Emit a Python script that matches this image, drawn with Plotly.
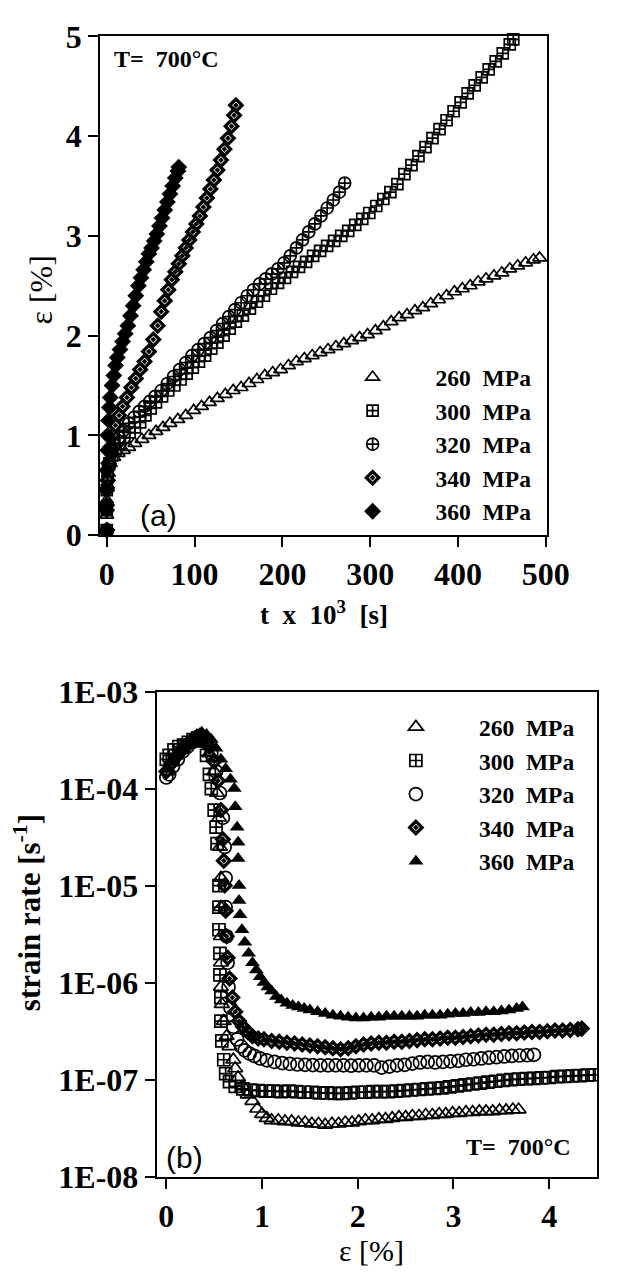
import plotly.graph_objects as go

# ---------------- Panel (a): strain vs time (t x 10^3 s) ----------------
a_t_260 = [0,0,0,1,2,4,8,13,19,25,32,40,48,56,64,72,81,90,99,108,117,126,135,144,153,162,171,180,189,198,207,216,225,234,243,252,261,270,279,288,297,306,315,324,333,342,351,360,369,378,387,396,405,414,423,432,441,450,459,468,477,486,493]
a_e_260 = [0.05,0.2,0.35,0.5,0.62,0.72,0.78,0.82,0.85,0.88,0.92,0.96,1.0,1.04,1.08,1.12,1.16,1.2,1.25,1.29,1.33,1.37,1.41,1.45,1.48,1.52,1.56,1.6,1.63,1.66,1.7,1.74,1.77,1.8,1.83,1.86,1.89,1.92,1.95,1.98,2.01,2.05,2.09,2.14,2.18,2.21,2.25,2.28,2.32,2.36,2.4,2.44,2.47,2.5,2.54,2.57,2.6,2.63,2.67,2.7,2.73,2.76,2.78]

a_t_300 = [0,0,0,1,3,6,10,15,20,26,32,38,44,50,56,63,70,77,84,91,98,105,112,119,126,133,140,147,155,163,171,179,187,195,203,211,219,227,235,243,251,259,267,275,283,291,299,307,315,323,331,339,347,355,363,371,379,387,395,403,411,419,427,435,443,451,459,463]
a_e_300 = [0.05,0.25,0.45,0.6,0.72,0.8,0.86,0.92,0.98,1.03,1.08,1.13,1.2,1.27,1.33,1.39,1.45,1.5,1.56,1.62,1.68,1.74,1.8,1.87,1.93,2.0,2.07,2.14,2.2,2.27,2.34,2.4,2.47,2.53,2.58,2.64,2.69,2.74,2.8,2.85,2.9,2.95,3.0,3.05,3.11,3.17,3.23,3.3,3.37,3.44,3.52,3.62,3.71,3.8,3.89,3.98,4.07,4.16,4.25,4.34,4.43,4.51,4.59,4.67,4.75,4.83,4.92,4.97]

a_t_320 = [0,0,1,2,5,9,14,19,25,31,37,43,49,55,62,69,76,83,90,97,104,111,118,125,132,139,146,153,160,167,174,181,188,195,202,209,216,223,230,237,244,251,258,265,271]
a_e_320 = [0.05,0.3,0.55,0.7,0.82,0.9,0.98,1.05,1.12,1.18,1.24,1.29,1.34,1.39,1.45,1.52,1.59,1.66,1.73,1.8,1.86,1.92,1.98,2.05,2.12,2.19,2.26,2.33,2.4,2.46,2.52,2.57,2.62,2.67,2.73,2.8,2.88,2.96,3.04,3.12,3.2,3.28,3.36,3.44,3.53]

a_t_340 = [0,0,1,2,4,7,10,14,18,23,28,33,38,43,48,53,58,62,66,70,74,78,82,86,90,94,98,102,106,110,114,118,122,126,130,134,138,142,145,147]
a_e_340 = [0.05,0.3,0.55,0.72,0.88,1.0,1.1,1.2,1.29,1.38,1.48,1.57,1.66,1.74,1.84,1.96,2.1,2.24,2.35,2.46,2.56,2.64,2.72,2.8,2.88,2.96,3.04,3.12,3.2,3.29,3.38,3.47,3.56,3.66,3.76,3.87,3.98,4.1,4.21,4.31]

a_t_360 = [0,0,0,0,1,1,2,3,4,6,8,10,12,15,18,21,24,27,30,33,36,39,42,45,48,51,54,57,60,63,66,69,72,75,78,81,82]
a_e_360 = [0.05,0.25,0.45,0.65,0.85,1.0,1.15,1.28,1.38,1.5,1.6,1.7,1.78,1.86,1.94,2.02,2.1,2.2,2.3,2.4,2.5,2.58,2.66,2.74,2.82,2.88,2.95,3.02,3.1,3.18,3.26,3.34,3.42,3.5,3.58,3.65,3.69]

# ---------------- Panel (b): strain rate vs strain ----------------
b_e_260 = [0.02,0.06,0.1,0.15,0.2,0.25,0.3,0.35,0.4,0.45,0.5,0.53,0.55,0.56,0.57,0.57,0.57,0.57,0.57,0.58,0.6,0.63,0.66,0.7,0.72,0.75,0.8,0.85,0.9,0.95,1.0,1.05,1.1,
           1.17,1.24,1.31,1.38,1.45,1.52,1.59,1.66,1.73,1.8,1.87,1.94,2.01,2.08,2.15,2.22,2.29,2.36,2.43,2.5,2.57,2.64,2.71,2.78,2.85,2.92,2.99,3.06,3.13,3.2,3.27,3.34,3.41,3.48,3.55,3.62,3.68]
b_r_260 = [1.5e-4,1.9e-4,2.2e-4,2.5e-4,2.8e-4,3.1e-4,3.3e-4,3.4e-4,3.0e-4,2.3e-4,1.5e-4,9e-5,5e-5,2.5e-5,1.2e-5,6e-6,3e-6,1.6e-6,9e-7,6e-7,4e-7,2.8e-7,2.2e-7,1.6e-7,1.3e-7,1.05e-7,8.5e-8,7e-8,6e-8,5e-8,4.4e-8,4e-8,3.8e-8,
           3.8e-8,3.7e-8,3.7e-8,3.6e-8,3.6e-8,3.5e-8,3.5e-8,3.4e-8,3.5e-8,3.5e-8,3.6e-8,3.6e-8,3.7e-8,3.8e-8,3.8e-8,3.9e-8,3.9e-8,4.0e-8,4.1e-8,4.1e-8,4.2e-8,4.2e-8,4.3e-8,4.3e-8,4.4e-8,4.4e-8,4.5e-8,4.5e-8,4.6e-8,4.6e-8,4.7e-8,4.7e-8,4.7e-8,4.8e-8,4.8e-8,4.9e-8,4.9e-8]

b_e_300 = [0.0,0.03,0.08,0.13,0.18,0.23,0.28,0.33,0.38,0.42,0.45,0.47,0.5,0.52,0.53,0.55,0.55,0.55,0.56,0.56,0.57,0.57,0.58,0.6,0.62,0.66,0.72,0.8,0.88,
           0.96,1.04,1.12,1.2,1.28,1.36,1.44,1.52,1.6,1.68,1.76,1.84,1.92,2.0,2.08,2.16,2.24,2.32,2.4,2.48,2.56,2.64,2.72,2.8,2.88,2.96,3.04,3.12,3.2,3.28,3.36,3.44,3.52,3.6,3.68,3.76,3.84,3.92,4.0,4.08,4.16,4.24,4.32,4.4,4.48]
b_r_300 = [2.0e-4,2.2e-4,2.5e-4,2.7e-4,2.8e-4,3.0e-4,3.2e-4,3.3e-4,3.1e-4,2.2e-4,1.4e-4,1e-4,6e-5,4e-5,2.7e-5,1e-5,6e-6,3.5e-6,2e-6,1.2e-6,7e-7,4e-7,2.5e-7,1.6e-7,1.15e-7,9.5e-8,8.5e-8,8e-8,7.8e-8,
           7.7e-8,7.6e-8,7.6e-8,7.5e-8,7.6e-8,7.5e-8,7.4e-8,7.4e-8,7.3e-8,7.3e-8,7.2e-8,7.2e-8,7.3e-8,7.4e-8,7.4e-8,7.5e-8,7.5e-8,7.5e-8,7.6e-8,7.7e-8,7.8e-8,7.9e-8,8.0e-8,8.1e-8,8.2e-8,8.4e-8,8.6e-8,8.8e-8,9.0e-8,9.2e-8,9.4e-8,9.6e-8,9.8e-8,1.0e-7,1.01e-7,1.02e-7,1.03e-7,1.04e-7,1.05e-7,1.07e-7,1.08e-7,1.09e-7,1.1e-7,1.11e-7,1.12e-7]

b_e_320 = [0.0,0.03,0.07,0.12,0.17,0.22,0.27,0.32,0.37,0.42,0.47,0.52,0.56,0.59,0.61,0.62,0.62,0.63,0.64,0.65,0.67,0.7,0.74,0.78,0.82,0.87,0.92,0.98,
           1.05,1.13,1.21,1.29,1.37,1.45,1.53,1.61,1.69,1.77,1.85,1.93,2.01,2.09,2.17,2.25,2.33,2.41,2.49,2.57,2.65,2.73,2.81,2.89,2.97,3.05,3.13,3.21,3.29,3.37,3.45,3.53,3.61,3.69,3.77,3.84]
b_r_320 = [1.3e-4,1.4e-4,1.7e-4,2.0e-4,2.4e-4,2.7e-4,3.0e-4,3.2e-4,3.3e-4,3.0e-4,2.3e-4,1.5e-4,9e-5,5e-5,2.5e-5,1.2e-5,6e-6,3e-6,1.6e-6,9e-7,5.5e-7,3.5e-7,2.6e-7,2.2e-7,2.0e-7,1.85e-7,1.75e-7,1.65e-7,
           1.58e-7,1.52e-7,1.48e-7,1.45e-7,1.43e-7,1.42e-7,1.41e-7,1.4e-7,1.4e-7,1.4e-7,1.4e-7,1.39e-7,1.4e-7,1.4e-7,1.4e-7,1.33e-7,1.36e-7,1.4e-7,1.42e-7,1.46e-7,1.5e-7,1.52e-7,1.5e-7,1.52e-7,1.54e-7,1.56e-7,1.6e-7,1.62e-7,1.65e-7,1.68e-7,1.7e-7,1.73e-7,1.75e-7,1.77e-7,1.78e-7,1.8e-7]

b_e_340 = [0.0,0.05,0.1,0.15,0.2,0.25,0.3,0.35,0.4,0.45,0.5,0.54,0.57,0.59,0.6,0.61,0.62,0.63,0.64,0.66,0.69,0.72,0.76,0.8,0.85,0.9,0.96,
           1.02,1.1,1.18,1.26,1.34,1.42,1.5,1.58,1.66,1.74,1.82,1.9,1.98,2.06,2.14,2.22,2.3,2.38,2.46,2.54,2.62,2.7,2.78,2.86,2.94,3.02,3.1,3.18,3.26,3.34,3.42,3.5,3.58,3.66,3.74,3.82,3.9,3.98,4.06,4.14,4.22,4.3,4.34]
b_r_340 = [1.5e-4,1.8e-4,2.1e-4,2.4e-4,2.7e-4,3.0e-4,3.3e-4,3.5e-4,3.3e-4,2.7e-4,1.9e-4,1.2e-4,6e-5,3e-5,1.8e-5,1e-5,5.5e-6,3e-6,1.8e-6,1.1e-6,7e-7,5e-7,4e-7,3.5e-7,3.1e-7,2.8e-7,2.65e-7,
           2.6e-7,2.5e-7,2.45e-7,2.4e-7,2.35e-7,2.3e-7,2.25e-7,2.2e-7,2.15e-7,2.1e-7,2.05e-7,2.1e-7,2.2e-7,2.3e-7,2.35e-7,2.4e-7,2.4e-7,2.45e-7,2.45e-7,2.5e-7,2.55e-7,2.6e-7,2.6e-7,2.65e-7,2.7e-7,2.7e-7,2.75e-7,2.8e-7,2.85e-7,2.9e-7,2.9e-7,2.95e-7,3.0e-7,3.0e-7,3.05e-7,3.1e-7,3.1e-7,3.15e-7,3.2e-7,3.2e-7,3.25e-7,3.3e-7,3.35e-7]

b_e_360 = [0.02,0.07,0.12,0.17,0.22,0.27,0.32,0.37,0.42,0.47,0.52,0.57,0.62,0.67,0.71,0.72,0.74,0.75,0.75,0.76,0.76,0.77,0.79,0.82,0.86,0.9,0.94,0.98,1.02,1.06,1.1,1.15,1.2,1.26,1.32,1.38,1.44,
           1.5,1.58,1.66,1.74,1.82,1.9,1.98,2.06,2.14,2.22,2.3,2.38,2.46,2.54,2.62,2.7,2.78,2.86,2.94,3.02,3.1,3.18,3.26,3.34,3.42,3.5,3.58,3.66,3.72]
b_r_360 = [1.6e-4,2.0e-4,2.4e-4,2.8e-4,3.1e-4,3.4e-4,3.6e-4,3.8e-4,3.6e-4,3.2e-4,2.6e-4,2.0e-4,1.6e-4,1.25e-4,1e-4,6.5e-5,4e-5,2.8e-5,1.9e-5,1e-5,7e-6,5e-6,3.5e-6,2.6e-6,2e-6,1.6e-6,1.35e-6,1.15e-6,1e-6,9e-7,8.2e-7,7.2e-7,6.6e-7,6.1e-7,5.8e-7,5.6e-7,5.4e-7,
           5.2e-7,5.0e-7,4.8e-7,4.6e-7,4.5e-7,4.4e-7,4.3e-7,4.3e-7,4.4e-7,4.4e-7,4.5e-7,4.5e-7,4.5e-7,4.5e-7,4.5e-7,4.6e-7,4.6e-7,4.6e-7,4.7e-7,4.8e-7,4.8e-7,4.9e-7,4.9e-7,5.0e-7,5.0e-7,5.1e-7,5.2e-7,5.4e-7,5.6e-7]

series_names = ["260\u00a0\u00a0MPa", "300\u00a0\u00a0MPa", "320\u00a0\u00a0MPa", "340\u00a0\u00a0MPa", "360\u00a0\u00a0MPa"]
x_tickvals_a = [0, 100, 200, 300, 400, 500]
y_tickvals_a = [0, 1, 2, 3, 4, 5]
x_tickvals_b = [0, 1, 2, 3, 4]
y_tickvals_b = [1e-8, 1e-7, 1e-6, 1e-5, 1e-4, 1e-3]
y_ticktext_b = ["1E-08", "1E-07", "1E-06", "1E-05", "1E-04", "1E-03"]

W, H = 622, 1283
SERIF = "Liberation Serif"
SANS = "Liberation Sans"

def px_x(p):
    return p / W

def px_y(p):
    return 1 - p / H

fig = go.Figure()

top_styles = [
    dict(symbol="triangle-up-open", size=12, color="black", line=dict(width=1.7, color="black")),
    dict(symbol="square-cross-open", size=11, color="black", line=dict(width=1.7, color="black")),
    dict(symbol="circle-cross-open", size=12, color="black", line=dict(width=1.7, color="black")),
    dict(symbol="diamond-open-dot", size=9.5, color="black", line=dict(width=3.3, color="black")),
    dict(symbol="diamond", size=13, color="black", line=dict(width=0)),
]
bot_styles = [
    dict(symbol="triangle-up-open", size=13, color="black", line=dict(width=1.7, color="black")),
    dict(symbol="square-cross-open", size=12, color="black", line=dict(width=1.7, color="black")),
    dict(symbol="circle-open", size=13, color="black", line=dict(width=1.7, color="black")),
    dict(symbol="diamond-open-dot", size=9.5, color="black", line=dict(width=3.3, color="black")),
    dict(symbol="triangle-up", size=13, color="black", line=dict(width=0)),
]

top_data = [(a_t_260, a_e_260), (a_t_300, a_e_300), (a_t_320, a_e_320), (a_t_340, a_e_340), (a_t_360, a_e_360)]
bot_data = [(b_e_260, b_r_260), (b_e_300, b_r_300), (b_e_320, b_r_320), (b_e_340, b_r_340), (b_e_360, b_r_360)]

for name, (x, y), st in zip(series_names, top_data, top_styles):
    fig.add_trace(go.Scatter(x=x, y=y, mode="markers", name=name, marker=st,
                             xaxis="x", yaxis="y", legend="legend", cliponaxis=False))
for name, (x, y), st in zip(series_names, bot_data, bot_styles):
    fig.add_trace(go.Scatter(x=x, y=y, mode="markers", name=name, marker=st,
                             xaxis="x2", yaxis="y2", legend="legend2"))

tickfont = dict(family=SERIF, size=32, color="black", weight="bold")
axis_common = dict(showline=True, linewidth=2, linecolor="black", mirror=True,
                   ticks="outside", ticklen=10, tickwidth=2, tickcolor="black",
                   showgrid=False, zeroline=False, tickfont=tickfont)
legfont = dict(family=SERIF, size=23.5, color="black", weight="bold")

fig.update_layout(
    width=W, height=H,
    margin=dict(l=0, r=0, t=0, b=0),
    paper_bgcolor="white", plot_bgcolor="white",
    xaxis=dict(domain=[px_x(103), px_x(568)], range=[-7.7, 501.5], anchor="y",
               tickvals=x_tickvals_a, **axis_common),
    yaxis=dict(domain=[px_y(532), px_y(19)], range=[0, 5], anchor="x",
               tickvals=y_tickvals_a, **axis_common),
    xaxis2=dict(domain=[px_x(162), px_x(620)], range=[-0.1, 4.5], anchor="y2",
                tickvals=x_tickvals_b, **axis_common),
    yaxis2=dict(domain=[px_y(1192), px_y(693)], type="log", range=[-8, -3], anchor="x2",
                tickvals=y_tickvals_b, ticktext=y_ticktext_b, **axis_common),
    legend=dict(x=px_x(321), y=px_y(347), xanchor="left", yanchor="top",
                bgcolor="rgba(0,0,0,0)", itemwidth=116, tracegroupgap=0, font=legfont),
    legend2=dict(x=px_x(366), y=px_y(707), xanchor="left", yanchor="top",
                 bgcolor="rgba(0,0,0,0)", itemwidth=116, tracegroupgap=0, font=legfont),
    showlegend=True,
)

ann = []
ann.append(dict(text="T=\u00a0\u00a0700°C", x=px_x(115), y=px_y(42), xref="paper", yref="paper",
                xanchor="left", yanchor="middle", showarrow=False,
                font=dict(family=SERIF, size=24, color="black", weight="bold")))
ann.append(dict(text="(a)", x=px_x(142), y=px_y(512), xref="paper", yref="paper",
                xanchor="left", yanchor="middle", showarrow=False,
                font=dict(family=SANS, size=30, color="black")))
ann.append(dict(text="t\u00a0\u00a0x\u00a0\u00a010<sup>3</sup>\u00a0\u00a0[s]", x=px_x(336), y=px_y(612), xref="paper", yref="paper",
                xanchor="center", yanchor="middle", showarrow=False,
                font=dict(family=SERIF, size=27, color="black", weight="bold")))
ann.append(dict(text="ε [%]", x=px_x(42), y=px_y(280), xref="paper", yref="paper",
                xanchor="center", yanchor="middle", showarrow=False, textangle=-90,
                font=dict(family=SERIF, size=32, color="black")))
ann.append(dict(text="T=\u00a0\u00a0700°C", x=px_x(595), y=px_y(1162), xref="paper", yref="paper",
                xanchor="right", yanchor="middle", showarrow=False,
                font=dict(family=SERIF, size=24, color="black", weight="bold")))
ann.append(dict(text="(b)", x=px_x(170), y=px_y(1172), xref="paper", yref="paper",
                xanchor="left", yanchor="middle", showarrow=False,
                font=dict(family=SANS, size=30, color="black")))
ann.append(dict(text="strain rate [s<sup>-1</sup>]", x=px_x(27), y=px_y(920), xref="paper", yref="paper",
                xanchor="center", yanchor="middle", showarrow=False, textangle=-90,
                font=dict(family=SERIF, size=31, color="black", weight="bold")))
ann.append(dict(text="ε [%]", x=px_x(385), y=px_y(1268), xref="paper", yref="paper",
                xanchor="center", yanchor="middle", showarrow=False,
                font=dict(family=SERIF, size=30, color="black")))
fig.update_layout(annotations=ann)

fig.write_html("out.html")
